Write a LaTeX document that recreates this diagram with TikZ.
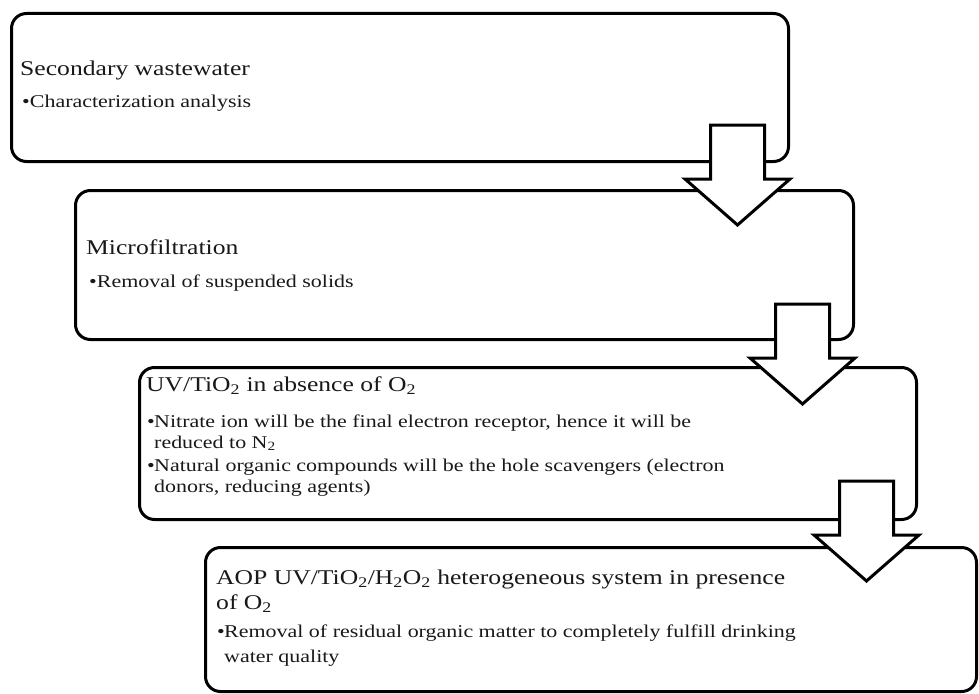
\documentclass[tikz,border=0pt]{standalone}
\usepackage{fontspec}
\setmainfont[FakeStretch=1.22]{Liberation Serif}
\begin{document}
\begin{tikzpicture}[x=1pt,y=-1pt,
  box/.style={draw=black, line width=3pt, rounded corners=15pt, fill=white, inner sep=0pt, anchor=north west},
  flowarrow/.style={draw=black, line width=3pt, fill=white, line join=miter},
  ttl/.style={anchor=base west, inner sep=0pt, font=\fontsize{21}{24}\selectfont, text=black!90},
  itm/.style={anchor=base west, inner sep=0pt, font=\fontsize{18}{20}\selectfont, text=black!90},
  pics/downarrow/.style={code={
    \draw[flowarrow] (-27,0) -- (27,0) -- (27,54) -- (52.5,54) -- (0,100) -- (-52.5,54) -- (-27,54) -- cycle;}}
]
\useasboundingbox (0,0) rectangle (979,693);
% boxes
\node[box, minimum width=777pt, minimum height=148pt] (b1) at (10,12) {};
\node[box, minimum width=778pt, minimum height=149pt] (b2) at (74,189) {};
\node[box, minimum width=777pt, minimum height=152pt] (b3) at (138,366) {};
\node[box, minimum width=771pt, minimum height=144pt] (b4) at (204,546) {};
% arrows
\pic at (737.5,125) {downarrow};
\pic at (802.5,304) {downarrow};
\pic at (866.5,481) {downarrow};
% box 1 text
\node[ttl] (t1) at (20,75) {Secondary wastewater};
\node[itm] (t1a) at (22,107) {•Characterization analysis};
% box 2 text
\node[ttl] (t2) at (86,254) {Microfiltration};
\node[itm] (t2a) at (89,287) {•Removal of suspended solids};
% box 3 text
\node[ttl] (t3) at (146,391) {UV/TiO\textsubscript{2} in absence of O\textsubscript{2}};
\node[itm] (t3b1) at (147,427) {•};
\node[itm] (t3a) at (154,427) {Nitrate ion will be the final electron receptor, hence it will be};
\node[itm] (t3b) at (154,448) {reduced to N\textsubscript{2}};
\node[itm] (t3b2) at (147,471) {•};
\node[itm] (t3c) at (154,471) {Natural organic compounds will be the hole scavengers (electron};
\node[itm] (t3d) at (154,492) {donors, reducing agents)};
% box 4 text
\node[ttl] (t4) at (216,584) {AOP UV/TiO\textsubscript{2}/H\textsubscript{2}O\textsubscript{2} heterogeneous system in presence};
\node[ttl] (t4b) at (216,609) {of O\textsubscript{2}};
\node[itm] (t4b1) at (217,637) {•};
\node[itm] (t4c) at (224,637) {Removal of residual organic matter to completely fulfill drinking};
\node[itm] (t4d) at (224,662) {water quality};
\end{tikzpicture}
\end{document}
